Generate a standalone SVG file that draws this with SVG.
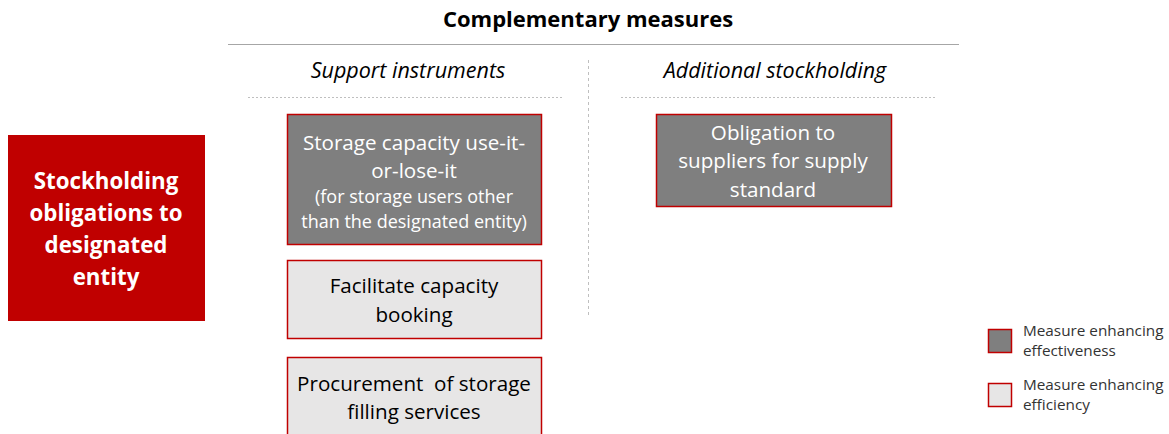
<svg xmlns="http://www.w3.org/2000/svg" width="1169" height="434" viewBox="0 0 1169 434">
  <style>
    text { font-family: "Open Sans", "Liberation Sans", sans-serif; text-anchor: middle; }
    .title { font-size: 22px; font-weight: bold; fill: #000; }
    .sub { font-size: 21.5px; font-style: italic; fill: #000; }
    .main { fill: #c00000; }
    .main-t { font-size: 22.3px; font-weight: bold; fill: #fff; }
    .dark { fill: #7f7f7f; stroke: #c00000; stroke-width: 1.5; }
    .light { fill: #e7e6e6; stroke: #c00000; stroke-width: 1.5; }
    .dark-t { font-size: 20.6px; fill: #fff; }
    .dark-s { font-size: 18px; fill: #fff; }
    .light-t { font-size: 20.6px; fill: #000; }
    .leg-t { font-size: 15.3px; fill: #333; text-anchor: start; }
  </style>

  <!-- header -->
  <text class="title" x="588" y="27">Complementary measures</text>
  <line x1="228" y1="44.5" x2="959" y2="44.5" stroke="#a6a6a6" stroke-width="1.2"/>

  <!-- column headings and separators -->
  <g id="columns">
    <text class="sub" x="408" y="78">Support instruments</text>
    <text class="sub" x="775" y="78">Additional stockholding</text>
    <line x1="248" y1="97.5" x2="563" y2="97.5" stroke="#bfbfbf" stroke-width="1" stroke-dasharray="2,2"/>
    <line x1="621" y1="97.5" x2="937" y2="97.5" stroke="#bfbfbf" stroke-width="1" stroke-dasharray="2,2"/>
    <line x1="588.5" y1="60" x2="588.5" y2="318" stroke="#bfbfbf" stroke-width="1" stroke-dasharray="3,3"/>
  </g>

  <!-- main obligation -->
  <g id="stockholding">
    <rect class="main" x="8" y="135" width="197" height="186"/>
    <text class="main-t" x="106" y="189">Stockholding</text>
    <text class="main-t" x="106" y="221">obligations to</text>
    <text class="main-t" x="106" y="253">designated</text>
    <text class="main-t" x="106" y="285">entity</text>
  </g>

  <!-- support instruments -->
  <g id="use-it-or-lose-it">
    <rect class="dark" x="287.5" y="114.5" width="254" height="130"/>
    <text class="dark-t" x="414" y="150">Storage capacity use-it-</text>
    <text class="dark-t" x="414" y="178">or-lose-it</text>
    <text class="dark-s" x="414" y="203">(for storage users other</text>
    <text class="dark-s" x="414" y="228">than the designated entity)</text>
  </g>

  <g id="capacity-booking">
    <rect class="light" x="287.5" y="260.5" width="254" height="78"/>
    <text class="light-t" x="414" y="293">Facilitate capacity</text>
    <text class="light-t" x="414" y="322">booking</text>
  </g>

  <g id="filling-services">
    <rect class="light" x="287.5" y="357.5" width="254" height="80"/>
    <text class="light-t" x="414" y="391" xml:space="preserve">Procurement  of storage</text>
    <text class="light-t" x="414" y="419">filling services</text>
  </g>

  <!-- additional stockholding -->
  <g id="supply-standard">
    <rect class="dark" x="656.5" y="114.5" width="235" height="92"/>
    <text class="dark-t" x="773" y="140">Obligation to</text>
    <text class="dark-t" x="773" y="168">suppliers for supply</text>
    <text class="dark-t" x="773" y="197">standard</text>
  </g>

  <!-- legend -->
  <g id="legend">
    <rect class="dark" x="988.5" y="329.5" width="23" height="23"/>
    <text class="leg-t" x="1023" y="336">Measure enhancing</text>
    <text class="leg-t" x="1023" y="356">effectiveness</text>
    <rect class="light" x="988.5" y="383.5" width="23" height="23"/>
    <text class="leg-t" x="1023" y="390">Measure enhancing</text>
    <text class="leg-t" x="1023" y="410">efficiency</text>
  </g>
</svg>
